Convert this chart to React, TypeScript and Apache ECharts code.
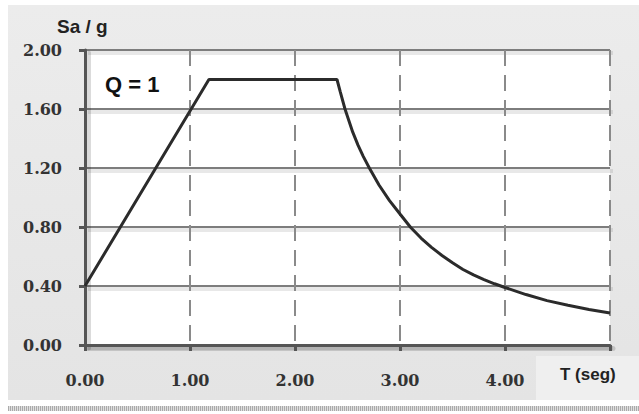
import React, { useEffect, useRef } from "react";
import * as echarts from "echarts";

// Period T (s) and spectral acceleration Sa/g
const periods = [
  0, 1.18, 2.4, 2.43, 2.476, 2.55, 2.6, 2.65, 2.708, 2.8, 2.9, 3.0,
  3.1, 3.2, 3.3, 3.4, 3.5, 3.6, 3.7, 3.8, 3.9, 4.0, 4.2, 4.4, 4.6, 4.8, 5.0,
];
const saValues = [
  0.4, 1.8, 1.8, 1.72, 1.6, 1.443, 1.355, 1.279, 1.2, 1.085, 0.979, 0.888,
  0.798, 0.725, 0.662, 0.607, 0.557, 0.512, 0.475, 0.443, 0.415, 0.39, 0.342, 0.301, 0.269, 0.241, 0.217,
];

const xTicks = [0, 1, 2, 3, 4, 5];
const yTicks = [0, 0.4, 0.8, 1.2, 1.6, 2.0];
const yAxisTitle = "Sa / g";
const xAxisTitle = "T (seg)";
const annotation = "Q = 1";

export default function App() {
  const ref = useRef<HTMLDivElement>(null);
  useEffect(() => {
    if (!ref.current) return;
    const chart = echarts.init(ref.current, null, { renderer: "svg" });
    const labelFont = {
      fontFamily: "DejaVu Serif",
      fontWeight: "bold" as const,
      fontSize: 16,
      color: "#333",
    };
    const xMin = xTicks[0];
    const xMax = xTicks[xTicks.length - 1];
    const yMin = yTicks[0];
    const yMax = yTicks[yTicks.length - 1];
    chart.setOption({
      animation: false,
      grid: [
        // shadow grid (offset a few pixels down / right)
        { left: 88, top: 53, width: 525, height: 295, show: false },
        // main grid
        { left: 85, top: 50, width: 525, height: 295, show: false },
      ],
      xAxis: [
        {
          gridIndex: 0,
          type: "value",
          min: xMin,
          max: xMax,
          interval: 1,
          axisLine: { onZero: false, lineStyle: { color: "rgba(0,0,0,0.14)", width: 5 } },
          axisTick: { show: false },
          axisLabel: { show: false },
          splitLine: { show: false },
        },
        {
          gridIndex: 1,
          type: "value",
          min: xMin,
          max: xMax,
          interval: 1,
          axisLine: { onZero: false, lineStyle: { color: "#555", width: 3 } },
          axisTick: { show: true, length: 6, lineStyle: { color: "#555", width: 3 } },
          axisLabel: {
            ...labelFont,
            margin: 27,
            formatter: (v: number) => (v === xMax ? "" : v.toFixed(2)),
          },
          splitLine: { show: true, lineStyle: { type: [16, 9], color: "#8a8a8a", width: 2 } },
        },
      ],
      yAxis: [
        {
          gridIndex: 0,
          type: "value",
          min: yMin,
          max: yMax,
          interval: 0.4,
          axisLine: { show: true, onZero: false, lineStyle: { color: "rgba(0,0,0,0.14)", width: 5 } },
          axisTick: { show: false },
          axisLabel: { show: false },
          splitLine: { show: true, lineStyle: { color: "rgba(0,0,0,0.09)", width: 4 } },
        },
        {
          gridIndex: 1,
          type: "value",
          min: yMin,
          max: yMax,
          interval: 0.4,
          axisLine: { show: true, onZero: false, lineStyle: { color: "#555", width: 3 } },
          axisTick: { show: true, length: 6, lineStyle: { color: "#555", width: 3 } },
          axisLabel: {
            ...labelFont,
            margin: 23,
            formatter: (v: number) => v.toFixed(2),
          },
          splitLine: { show: true, lineStyle: { color: "#7d7d7d", width: 2 } },
        },
      ],
      graphic: [
        {
          type: "text",
          left: 57,
          top: 17,
          z: 100,
          style: { text: yAxisTitle, fontFamily: "Liberation Sans", fontWeight: "bold", fontSize: 19, fill: "#222" },
        },
        {
          type: "text",
          left: 560,
          top: 366,
          z: 100,
          style: { text: xAxisTitle, fontFamily: "Liberation Sans", fontWeight: "bold", fontSize: 17, fill: "#222" },
        },
        {
          type: "text",
          left: 105,
          top: 73,
          z: 100,
          style: { text: annotation, fontFamily: "Liberation Sans", fontWeight: "bold", fontSize: 22, fill: "#111" },
        },
      ],
      series: [
        {
          type: "line",
          xAxisIndex: 1,
          yAxisIndex: 1,
          data: periods.map((t, i) => [t, saValues[i]]),
          showSymbol: false,
          lineStyle: { color: "#2b2b2b", width: 3 },
          z: 10,
        },
      ],
    });
    return () => chart.dispose();
  }, []);

  return (
    <div style={{ position: "fixed", left: 0, top: 0, width: 639, height: 414, background: "#ffffff", overflow: "hidden" }}>
      <div
        style={{
          position: "absolute",
          left: 8,
          top: 5,
          width: 631,
          height: 395,
          background: "linear-gradient(#ececec, #e4e4e4)",
        }}
      />
      <div style={{ position: "absolute", left: 536, top: 356, width: 103, height: 44, background: "#efefef" }} />
      <div style={{ position: "absolute", left: 85, top: 50, width: 525, height: 295, background: "#ffffff" }} />
      <div
        style={{
          position: "absolute",
          left: 8,
          top: 406,
          width: 631,
          height: 5,
          backgroundImage: "repeating-linear-gradient(90deg, #aaa 0 1px, #e0e0e0 1px 2px)",
        }}
      />
      <div ref={ref} style={{ position: "absolute", left: 0, top: 0, width: 639, height: 414 }} />
    </div>
  );
}
